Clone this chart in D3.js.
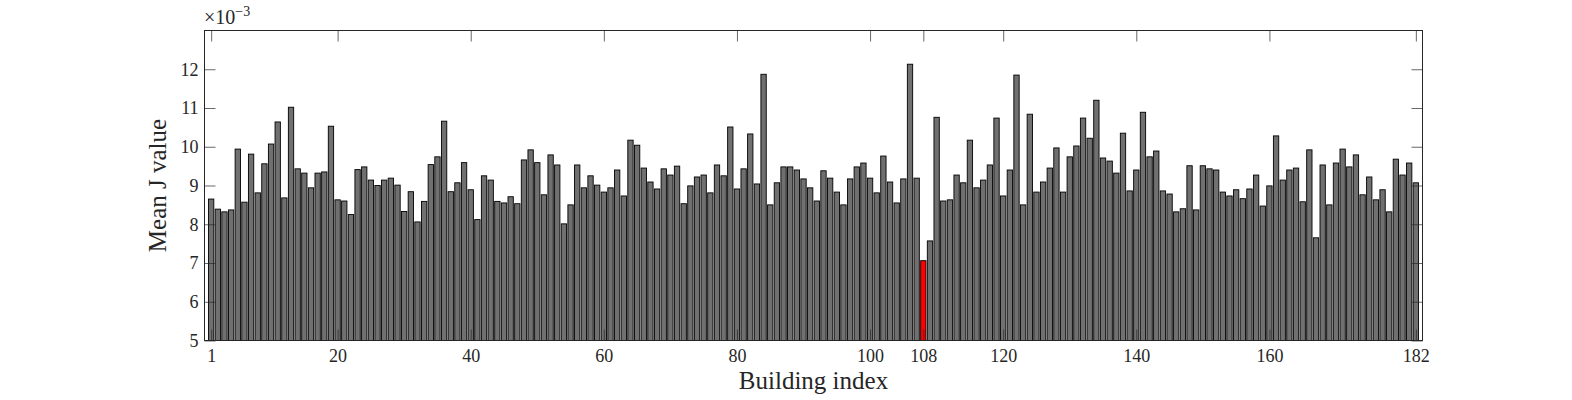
<!DOCTYPE html>
<html>
<head>
<meta charset="utf-8">
<script src="https://cdn.jsdelivr.net/npm/d3@7"></script>
<style>
  html, body { margin: 0; padding: 0; background: #ffffff; }
  svg { display: block; }
  text { font-family: "Liberation Serif", "Times New Roman", serif; fill: #262626; }
</style>
</head>
<body>
<svg id="chart" width="1572" height="400"></svg>
<script>
// Mean J value of each building, in units of 1e-3
const meanJ = [
  8.65, 8.39, 8.32, 8.37, 9.94, 8.57, 9.81, 8.81, 9.56, 10.07,
  10.64, 8.68, 11.02, 9.43, 9.32, 8.94, 9.32, 9.35, 10.53, 8.63,
  8.60, 8.25, 9.41, 9.48, 9.14, 9.00, 9.14, 9.19, 9.01, 8.33,
  8.84, 8.06, 8.59, 9.54, 9.74, 10.66, 8.84, 9.07, 9.59, 8.89,
  8.12, 9.25, 9.14, 8.59, 8.55, 8.71, 8.53, 9.66, 9.92, 9.59,
  8.76, 9.79, 9.53, 8.01, 8.50, 9.53, 8.94, 9.25, 9.01, 8.83,
  8.94, 9.40, 8.73, 10.17, 10.04, 9.45, 9.09, 8.91, 9.43, 9.27,
  9.50, 8.53, 8.99, 9.22, 9.27, 8.81, 9.53, 9.25, 10.51, 8.91,
  9.43, 10.33, 9.04, 11.87, 8.50, 9.07, 9.48, 9.48, 9.40, 9.17,
  8.94, 8.60, 9.38, 9.19, 8.83, 8.50, 9.17, 9.48, 9.58, 9.19,
  8.81, 9.76, 9.09, 8.55, 9.17, 12.13, 9.19, 7.06, 7.57, 10.76,
  8.60, 8.63, 9.27, 9.07, 10.17, 8.94, 9.14, 9.53, 10.74, 8.73,
  9.40, 11.85, 8.50, 10.84, 8.83, 9.09, 9.45, 9.97, 8.83, 9.74,
  10.02, 10.74, 10.22, 11.20, 9.71, 9.63, 9.32, 10.35, 8.86, 9.40,
  10.89, 9.74, 9.89, 8.86, 8.78, 8.32, 8.40, 9.51, 8.37, 9.51,
  9.43, 9.40, 8.83, 8.73, 8.89, 8.66, 8.91, 9.27, 8.47, 8.99,
  10.28, 9.14, 9.40, 9.45, 8.58, 9.92, 7.65, 9.53, 8.50, 9.58,
  9.94, 9.48, 9.79, 8.76, 9.22, 8.63, 8.89, 8.32, 9.68, 9.27,
  9.58, 9.07
];
const buildingIndex = meanJ.map((_, i) => i + 1);
const highlighted = 108;
const xTicks = [1, 20, 40, 60, 80, 100, 108, 120, 140, 160, 182];
const yTicks = [5, 6, 7, 8, 9, 10, 11, 12];
const xDomain = [0, 183];
const yDomain = [5, 13];

const svg = d3.select("#chart");
const L = 204.5, R = 1422.5, T = 30.5, B = 340.5;

const x = d3.scaleLinear().domain(xDomain).range([L, R]);
const y = d3.scaleLinear().domain(yDomain).range([B, T]);
const barW = 0.8 * (x(1) - x(0));

// bars
svg.append("g")
  .selectAll("rect")
  .data(buildingIndex)
  .join("rect")
  .attr("x", d => x(d) - barW / 2)
  .attr("width", barW)
  .attr("y", d => y(meanJ[d - 1]))
  .attr("height", d => y(yDomain[0]) - y(meanJ[d - 1]))
  .attr("fill", d => d === highlighted ? "#ff0000" : "#707070")
  .attr("stroke", "#000")
  .attr("stroke-width", 0.9);

const tickLen = 11;
const axisColor = "#262626";

// bottom axis (ticks inward)
const xBottom = d3.axisBottom(x).tickValues(xTicks).tickSizeInner(-tickLen).tickSizeOuter(0).tickPadding(8).tickFormat(d3.format("d"));
const gxb = svg.append("g").attr("transform", `translate(0,${B})`).call(xBottom);
gxb.select(".domain").remove();
gxb.selectAll("line").attr("stroke", axisColor).attr("stroke-width", 0.7);
gxb.selectAll("text").attr("font-size", 18).attr("dy", "0.71em").attr("y", 9).style("font-family", "Liberation Serif, serif").attr("fill", axisColor);

// top axis (ticks only)
const xTop = d3.axisTop(x).tickValues(xTicks).tickSizeInner(-tickLen).tickSizeOuter(0).tickFormat("");
const gxt = svg.append("g").attr("transform", `translate(0,${T})`).call(xTop);
gxt.select(".domain").remove();
gxt.selectAll("line").attr("stroke", axisColor).attr("stroke-width", 0.7);

// left axis
const yLeft = d3.axisLeft(y).tickValues(yTicks).tickSizeInner(-tickLen).tickSizeOuter(0).tickPadding(6).tickFormat(d3.format("d"));
const gyl = svg.append("g").attr("transform", `translate(${L},0)`).call(yLeft);
gyl.select(".domain").remove();
gyl.selectAll("line").attr("stroke", axisColor).attr("stroke-width", 0.7);
gyl.selectAll("text").attr("font-size", 18).attr("x", -6).style("font-family", "Liberation Serif, serif").attr("fill", axisColor);

// right axis (ticks only)
const yRight = d3.axisRight(y).tickValues(yTicks).tickSizeInner(-tickLen).tickSizeOuter(0).tickFormat("");
const gyr = svg.append("g").attr("transform", `translate(${R},0)`).call(yRight);
gyr.select(".domain").remove();
gyr.selectAll("line").attr("stroke", axisColor).attr("stroke-width", 0.7);

// box
svg.append("rect")
  .attr("x", L).attr("y", T)
  .attr("width", R - L).attr("height", B - T)
  .attr("fill", "none").attr("stroke", axisColor).attr("stroke-width", 1);

// exponent label
const ex = svg.append("text").attr("x", 204).attr("y", 24).style("font-size", "20px").attr("fill", axisColor);
ex.append("tspan").text("\u00d710");
ex.append("tspan").style("font-size", "14px").attr("dy", -8).text("\u22123");

// axis labels
svg.append("text")
  .attr("x", (L + R) / 2).attr("y", 389)
  .attr("text-anchor", "middle").attr("font-size", 25)
  .text("Building index");

svg.append("text")
  .attr("transform", `translate(166,${(T + B) / 2}) rotate(-90)`)
  .attr("text-anchor", "middle").attr("font-size", 25)
  .text("Mean J value");
</script>
</body>
</html>
